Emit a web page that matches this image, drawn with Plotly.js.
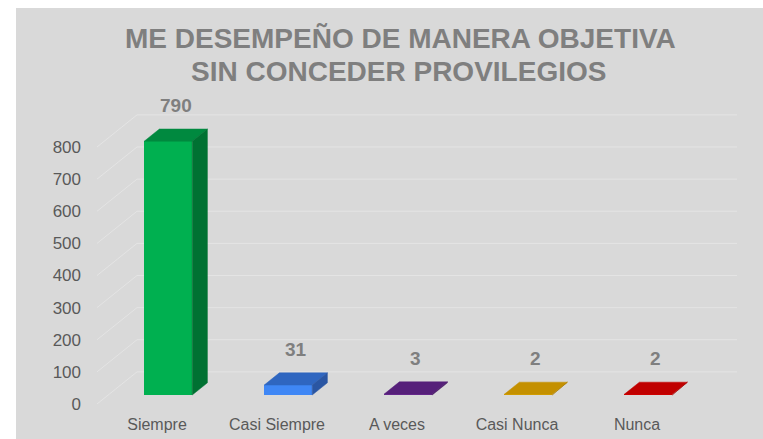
<!DOCTYPE html>
<html>
<head>
<meta charset="utf-8">
<script src="https://cdn.plot.ly/plotly-3.0.1.min.js"></script>
<style>
html,body{margin:0;padding:0;background:#ffffff;width:763px;height:439px;overflow:hidden;}
#chart{position:absolute;left:16px;top:8px;width:747px;height:431px;}
</style>
</head>
<body>
<div id="chart"></div>
<script>
// ---- data ----
const categories = ["Siempre", "Casi Siempre", "A veces", "Casi Nunca", "Nunca"];
const values = [790, 31, 3, 2, 2];
const frontColors = ["#00b050", "#3f87f5", "#6a2a92", "#e0a800", "#e00000"];
const topColors   = ["#00893f", "#2f66c0", "#56207a", "#c49000", "#c00000"];
const sideColors  = ["#007132", "#2a56a3", "#4a1b69", "#a67b00", "#a00000"];
const yTicks = [0, 100, 200, 300, 400, 500, 600, 700, 800];
const titleLines = ["ME DESEMPEÑO DE MANERA OBJETIVA", "SIN CONCEDER PROVILEGIOS"];

// ---- 3D projection style ----
const WX = 0.3333;   // full floor depth in x units
const WY = 100;      // full floor depth in y units
const D0 = 0.28, D1 = 0.66; // bar depth span (fraction of floor depth)
const HALF = 0.2;    // bar half width

const xs = categories.map((c, i) => i);
const traces = [];

// wall gridlines as shapes below the traces
const shapes = yTicks.map(v => ({
  type: "path", xref: "x", yref: "y", layer: "below",
  path: "M " + (-0.5) + "," + v + " L " + (-0.5 + WX) + "," + (v + WY) +
        " L " + (categories.length - 0.5 + WX) + "," + (v + WY),
  line: {color: "#e4e4e4", width: 1}
}));

// front faces
const base = D0 * WY;
traces.push({type: "bar", x: xs.map(i => i + D0 * WX), y: values,
  base: values.map(() => base), width: 0.4,
  marker: {color: frontColors, line: {width: 0}},
  hoverinfo: "skip", showlegend: false});

const dx = (D1 - D0) * WX, dy = (D1 - D0) * WY;
xs.forEach(i => {
  const v = values[i];
  const xl = i + D0 * WX - HALF, xr = i + D0 * WX + HALF;
  const yb = base, yt = base + v;
  // top face
  traces.push({type: "scatter", mode: "lines", fill: "toself",
    x: [xl, xr, xr + dx, xl + dx, xl], y: [yt, yt, yt + dy, yt + dy, yt],
    fillcolor: topColors[i], line: {width: 0.5, color: topColors[i]},
    hoverinfo: "skip", showlegend: false});
  // side face
  traces.push({type: "scatter", mode: "lines", fill: "toself",
    x: [xr, xr + dx, xr + dx, xr, xr], y: [yb, yb + dy, yt + dy, yt, yb],
    fillcolor: sideColors[i], line: {width: 0.5, color: sideColors[i]},
    hoverinfo: "skip", showlegend: false});
});

const annotations = xs.map(i => ({
  x: i + (D0 + D1) / 2 * WX, y: base + values[i] + dy, xref: "x", yref: "y",
  text: "<b>" + values[i] + "</b>", showarrow: false, yanchor: "bottom", yshift: 11,
  font: {family: "Liberation Sans, Arial, sans-serif", size: 19, color: "#7f7f7f"}
}));
const titleY = [1.1819, 1.0754];
const titleX = [0.4676, 0.466];
titleLines.forEach((t, k) => annotations.push({
  x: titleX[k], y: titleY[k], xref: "paper", yref: "paper",
  xanchor: "center", yanchor: "middle", showarrow: false,
  text: "<b>" + t + "</b>",
  font: {family: "Liberation Sans, Arial, sans-serif", size: 28, color: "#7f7f7f"}
}));

const layout = {
  width: 747, height: 431,
  paper_bgcolor: "#d9d9d9", plot_bgcolor: "rgba(0,0,0,0)",
  margin: {l: 81, r: 18, t: 87, b: 35, pad: 0},
  xaxis: {range: [-0.5, 4.9], tickvals: xs, ticktext: categories,
    showgrid: false, zeroline: false, showline: false, ticks: "",
    ticklabelstandoff: 9,
    tickfont: {family: "Liberation Sans, Arial, sans-serif", size: 16, color: "#595959"},
    fixedrange: true},
  yaxis: {range: [0, 961.9], tickvals: yTicks, ticktext: yTicks.map(String),
    showgrid: false, zeroline: false, showline: false, ticks: "",
    ticklabelstandoff: 15,
    tickfont: {family: "Liberation Sans, Arial, sans-serif", size: 17, color: "#595959"},
    fixedrange: true},
  annotations: annotations,
  shapes: shapes,
  showlegend: false,
  bargap: 0
};

Plotly.newPlot("chart", traces, layout, {displayModeBar: false, staticPlot: true});
</script>
</body>
</html>
